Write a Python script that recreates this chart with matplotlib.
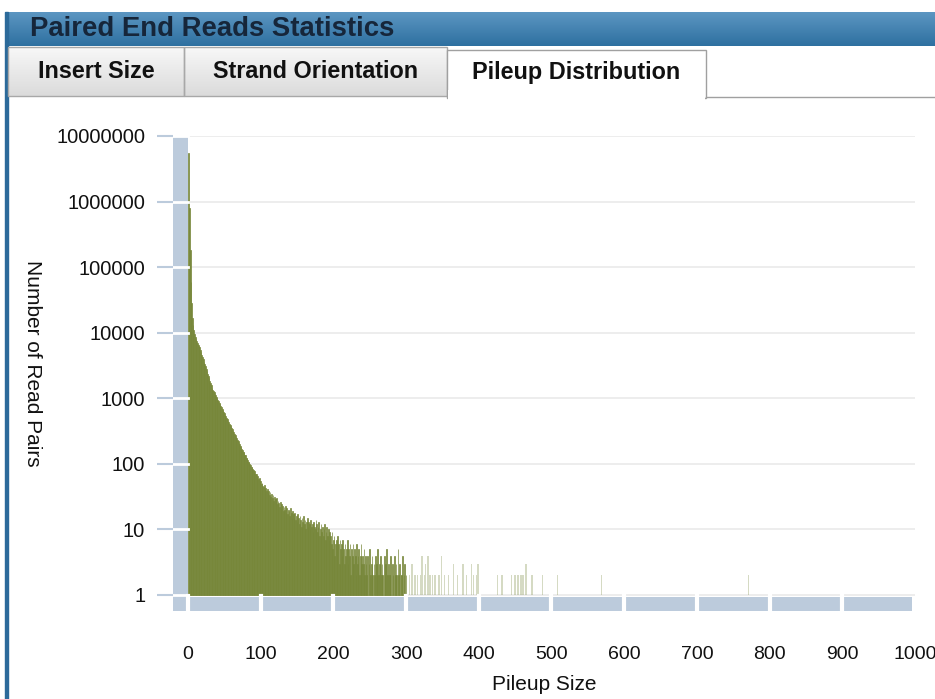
import numpy as np
import matplotlib.pyplot as plt
from matplotlib.patches import Rectangle
from matplotlib.ticker import FixedLocator, NullLocator

# panel texts
panel_title = "Paired End Reads Statistics"
tab_names = ["Insert Size", "Strand Orientation", "Pileup Distribution"]

# axis ticks
x_ticks = [0, 100, 200, 300, 400, 500, 600, 700, 800, 900, 1000]
y_ticks = [1, 10, 100, 1000, 10000, 100000, 1000000, 10000000]
y_tick_labels = ["1", "10", "100", "1000", "10000", "100000", "1000000", "10000000"]

# read pair counts for pileup sizes 1..300
pileup_counts = [
    5500000, 800000, 180000, 60000, 28000, 17000, 13000, 11000, 9600, 8700,
    8000, 7400, 7000, 6600, 6300, 6000,
    5500, 5050, 4650, 4280, 3940, 3620, 3330, 3060, 2820, 2590,
    2380, 2190, 2010, 1850, 1700, 1570, 1450, 1360,
    1290, 1240, 1160, 1115, 1045, 1000, 940, 900, 845, 810,
    760, 730, 685, 660, 615, 595, 555, 535, 500, 485, 450, 435, 405, 392,
    372, 350, 336, 316, 304, 285, 274, 257, 248, 232,
    224, 209, 202, 188, 183, 170, 165, 153, 149, 138, 135, 124, 121,
    115, 108, 106, 99, 97, 90, 89, 83, 82, 76,
    77, 70, 71, 64, 65, 58, 60, 54, 55, 49, 51, 46,
    44, 47, 41, 43, 38, 42, 36, 39, 34, 37,
    31, 35, 30, 33, 27, 31, 29, 26, 30, 24,
    27, 25, 22, 26, 21, 24, 23, 19, 22, 20,
    23, 18, 21, 17, 20, 19, 16, 21, 18, 15, 19,
    17, 15, 18, 14, 16, 13, 17, 15, 12, 16,
    14, 11, 15, 13, 16, 12, 14, 10, 13, 15,
    11, 13, 12, 10, 14, 11, 12, 9, 13, 11,
    10, 14, 12, 9, 11, 13, 8, 10, 12, 9,
    11, 8, 10, 12, 7, 9, 11, 8, 10, 7,
    9, 8, 6, 9, 5, 7, 8, 4, 6, 7,
    5, 8, 6, 3, 7, 5, 6, 4, 7, 5,
    3, 6, 4, 5, 7, 3, 5, 4, 6, 2,
    5, 4, 6, 3, 5, 4, 2, 6, 3, 4,
    5, 2, 4, 6, 3, 4,
    3, 5, 2, 4, 3, 2, 4, 1, 3, 5,
    2, 3, 4, 2, 1, 3, 2, 4, 3, 2,
    5, 2, 3, 1, 4, 2, 3, 2, 1, 4,
    2, 3, 5, 2, 1, 3, 2, 2, 4, 1,
    3, 2, 1, 4, 2, 3, 2, 1, 5, 2,
    3, 1, 2, 2, 4, 1, 2, 3, 1, 2,
]

# sparse tail beyond 300
tail_sizes = [305, 308, 312, 316, 320, 322, 325, 327, 330, 333, 336, 340, 345,
              349, 353, 358, 365, 371, 378, 383, 390, 393, 397, 399, 426, 432,
              445, 450, 454, 458, 461, 465, 473, 488, 508, 569, 771]
tail_counts = [2, 3, 2, 2, 2, 4, 2, 3, 4, 2, 2, 2, 2,
               4, 2, 2, 3, 2, 3, 2, 3, 2, 2, 3, 2, 2,
               2, 2, 2, 2, 2, 3, 2, 2, 2, 2, 2]

sizes = np.arange(1, len(pileup_counts) + 1)
counts = np.array(pileup_counts, dtype=float)

band = "#bccbdc"
olive = "#77873a"
plt.rcParams["font.family"] = ["Liberation Sans", "DejaVu Sans"]

W, H = 935, 699
fig = plt.figure(figsize=(W / 100, H / 100), dpi=100)

# background / panel chrome in pixel coords
bg = fig.add_axes([0, 0, 1, 1])
bg.set_xlim(0, W)
bg.set_ylim(H, 0)
bg.axis("off")

grad = np.linspace(0, 1, 50).reshape(-1, 1)
top = np.array([92, 150, 194]) / 255
bot = np.array([46, 112, 160]) / 255
img = (top + (bot - top) * grad)[:, None, :].repeat(2, axis=1)
bg.imshow(img, extent=[5, W, 46, 12], aspect="auto", zorder=1)
bg.add_patch(Rectangle((5, 12), 3, H, color="#2c6a9a", zorder=2))
bg.text(30, 29, panel_title, fontsize=19.8, fontweight="bold",
        color="#16263a", va="center", ha="left", zorder=3)

# tabs
tab_edges = [(8, 184), (184, 447), (447, 706)]
gray = np.linspace(0, 1, 30).reshape(-1, 1)
for i, (name, (x0, x1)) in enumerate(zip(tab_names, tab_edges)):
    if i == 2:
        bg.add_patch(Rectangle((x0, 50), x1 - x0, 48, facecolor="white",
                               edgecolor="#a0a0a0", lw=1, zorder=3))
        bg.add_patch(Rectangle((x0 + 1, 90), x1 - x0 - 2, 10,
                               facecolor="white", edgecolor="none", zorder=4))
        ty = 73
    else:
        g = (np.array([0.97, 0.97, 0.97]) + (np.array([0.86, 0.86, 0.86]) - 0.97) * gray)
        bg.imshow(g[:, None, :].repeat(2, axis=1), extent=[x0, x1, 96, 47],
                  aspect="auto", zorder=2)
        bg.add_patch(Rectangle((x0, 47), x1 - x0, 49, facecolor="none",
                               edgecolor="#a8a8a8", lw=1, zorder=3))
        ty = 71
    bg.text((x0 + x1) / 2, ty, name, fontsize=16.8, fontweight="bold",
            color="#111111", ha="center", va="center", zorder=5)
bg.plot([706, W], [97, 97], color="#a0a0a0", lw=1, zorder=3)

# main chart
ax = fig.add_axes([173 / W, 88 / H, 742 / W, 475 / H])
ax.patch.set_alpha(0)
ax.set_yscale("log")
ax.set_xlim(-20.6, 1000)
ax.set_ylim(0.57, 1e7)
for s in ax.spines.values():
    s.set_visible(False)

for yt in y_ticks:
    ax.plot([0, 1000], [yt, yt], color="#ececec", lw=1.3, zorder=1)

ax.bar(sizes, counts - 1, bottom=1, width=1.0, color=olive,
       edgecolor=olive, linewidth=0.5, zorder=2)
ax.bar(tail_sizes, np.array(tail_counts, dtype=float) - 1, bottom=1, width=2.0,
       color=olive, alpha=0.3, linewidth=0, zorder=2)

# axis bands
ax.add_patch(Rectangle((-20.6, 0.57), 20.6, 1e7 - 0.57, facecolor=band,
                       edgecolor="none", zorder=3))
ax.add_patch(Rectangle((-20.6, 0.57), 1017, 0.93 - 0.57, facecolor=band,
                       edgecolor="none", zorder=3))
for yt in y_ticks:
    ax.plot([-20.6, 0], [yt, yt], color="white", lw=2, zorder=4)
for xt in x_ticks[:-1]:
    ax.plot([xt, xt], [0.5, 0.95], color="white", lw=3, zorder=4)

ax.yaxis.set_major_locator(FixedLocator(y_ticks))
ax.yaxis.set_minor_locator(NullLocator())
ax.set_yticklabels(y_tick_labels)
ax.set_xticks(x_ticks)
ax.set_xticklabels([str(t) for t in x_ticks])
ax.tick_params(axis="y", length=11.5, width=1.5, color=band, pad=8.5,
               labelsize=14.5, labelcolor="#111111")
ax.tick_params(axis="x", length=0, pad=25, labelsize=14, labelcolor="#111111")

ax.set_xlabel("Pileup Size", fontsize=15, color="#111111", labelpad=9)
ax.set_ylabel("Number of Read Pairs", fontsize=15, color="#111111",
              rotation=270, va="center", ha="center")
ax.yaxis.set_label_coords(-0.1887, 0.522)

fig.savefig("out.png", dpi=100)
